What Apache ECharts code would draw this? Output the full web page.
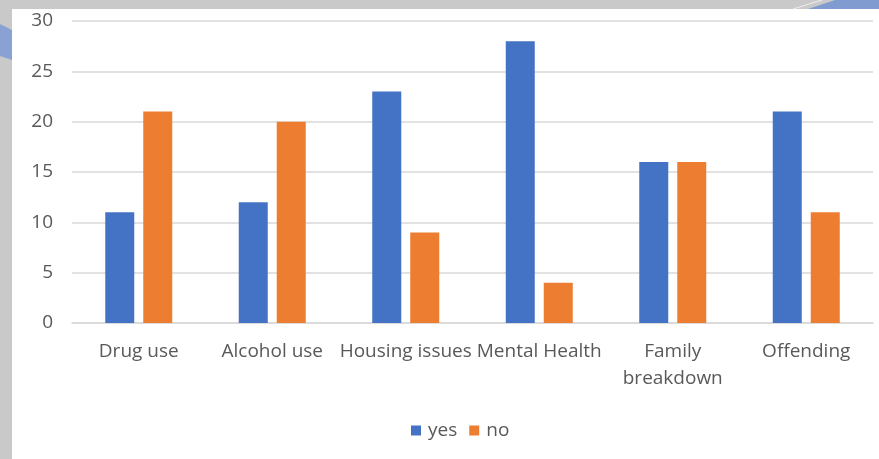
<!DOCTYPE html>
<html>
<head>
<meta charset="utf-8">
<script src="https://cdn.jsdelivr.net/npm/echarts@6/dist/echarts.min.js"></script>
<style>
  html, body { margin: 0; padding: 0; background: #fff; }
  #chart { width: 879px; height: 459px; }
</style>
</head>
<body>
<div id="chart"></div>
<script>
const categories = ['Drug use', 'Alcohol use', 'Housing issues', 'Mental Health', 'Family breakdown', 'Offending'];
const yesValues = [11, 12, 23, 28, 16, 21];
const noValues = [21, 20, 9, 4, 16, 11];
const yTicks = [0, 5, 10, 15, 20, 25, 30];

const chart = echarts.init(document.getElementById('chart'));
const textColor = '#595959';
const font = 'Open Sans';

chart.setOption({
  backgroundColor: '#fff',
  animation: false,
  textStyle: { fontFamily: font },
  // slide frame behind the chart
  graphic: [
    { type: 'rect', silent: true, z: -10, shape: { x: 0, y: 0, width: 879, height: 9 }, style: { fill: '#c9c9c9' } },
    { type: 'rect', silent: true, z: -10, shape: { x: 0, y: 0, width: 12, height: 459 }, style: { fill: '#c9c9c9' } },
    { type: 'polygon', silent: true, z: -9, shape: { points: [[0, 24], [12, 30], [12, 60], [0, 56]] }, style: { fill: '#8aa2d3' } },
    { type: 'polygon', silent: true, z: -9, shape: { points: [[808, 9], [835, 0], [879, 0], [879, 9]] }, style: { fill: '#809bd0' } },
    { type: 'line', silent: true, z: -8, shape: { x1: 793, y1: 9, x2: 822, y2: 0 }, style: { stroke: '#eeeeee', lineWidth: 1 } }
  ],
  grid: { left: 72, right: 6, top: 21, bottom: 136 },
  legend: {
    data: ['yes', 'no'],
    bottom: 14,
    left: 406,
    itemWidth: 10,
    itemHeight: 10,
    itemGap: 12,
    icon: 'rect',
    textStyle: { color: textColor, fontSize: 19, fontFamily: font, padding: [0, 0, 0, 2] }
  },
  xAxis: {
    type: 'category',
    data: categories,
    axisLine: { lineStyle: { color: '#d9d9d9', width: 1.5 } },
    axisTick: { show: false },
    axisLabel: {
      color: textColor,
      fontSize: 19,
      fontFamily: font,
      interval: 0,
      margin: 15,
      lineHeight: 27,
      formatter: v => v === 'Family breakdown' ? 'Family\nbreakdown' : v
    }
  },
  yAxis: {
    type: 'value',
    min: yTicks[0],
    max: yTicks[yTicks.length - 1],
    interval: 5,
    axisLine: { show: false },
    axisTick: { show: false },
    axisLabel: { color: textColor, fontSize: 19, fontFamily: font, margin: 19 },
    splitLine: { lineStyle: { color: '#d9d9d9', width: 1.5 } }
  },
  series: [
    {
      name: 'yes',
      type: 'bar',
      data: yesValues,
      barWidth: 29,
      barGap: '31%',
      itemStyle: { color: '#4472c4' }
    },
    {
      name: 'no',
      type: 'bar',
      data: noValues,
      barWidth: 29,
      itemStyle: { color: '#ed7d31' }
    }
  ]
});
</script>
</body>
</html>
